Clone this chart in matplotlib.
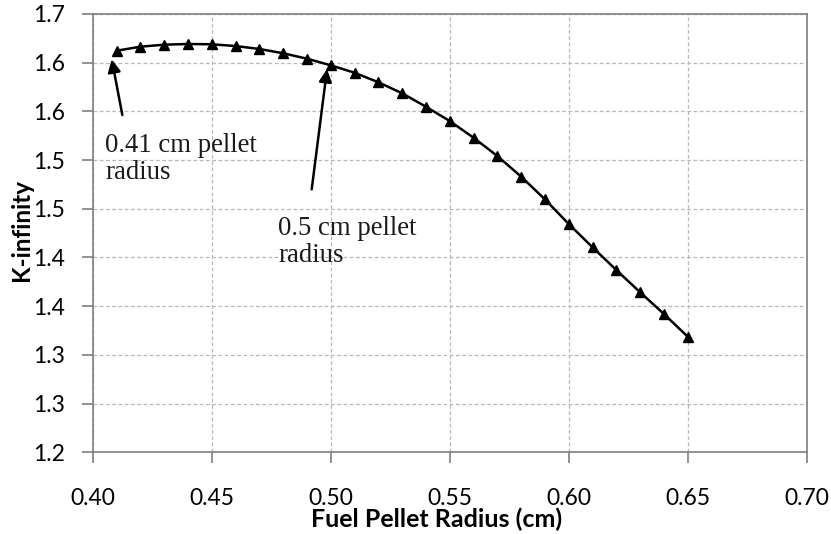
import matplotlib
matplotlib.use("Agg")
import matplotlib.pyplot as plt

# ---- data ----
radius = [0.41, 0.42, 0.43, 0.44, 0.45, 0.46, 0.47, 0.48, 0.49, 0.50,
          0.51, 0.52, 0.53, 0.54, 0.55, 0.56, 0.57, 0.58, 0.59, 0.60,
          0.61, 0.62, 0.63, 0.64, 0.65]
k_inf = [1.6373, 1.6414, 1.6435, 1.6442, 1.6439, 1.6421, 1.6391, 1.6347, 1.6291, 1.6223,
         1.6147, 1.6049, 1.5936, 1.5798, 1.5651, 1.5480, 1.5292, 1.5080, 1.4847, 1.4594,
         1.4355, 1.4121, 1.3893, 1.3670, 1.3437]

x_ticks = [0.40, 0.45, 0.50, 0.55, 0.60, 0.65, 0.70]
x_tick_labels = ["0.40", "0.45", "0.50", "0.55", "0.60", "0.65", "0.70"]
y_ticks = [1.225, 1.275, 1.325, 1.375, 1.425, 1.475, 1.525, 1.575, 1.625, 1.675]
y_tick_labels = ["1.2", "1.3", "1.3", "1.4", "1.4", "1.5", "1.5", "1.6", "1.6", "1.7"]

ann1_text = "0.41 cm pellet\nradius"
ann2_text = "0.5 cm pellet\nradius"

# ---- figure ----
fig = plt.figure(figsize=(8.31, 5.34), dpi=100)
ax = fig.add_axes([0.1116, 0.153, 0.8592, 0.8208])

ax.plot(radius, k_inf, color="black", lw=1.8, marker="^", markersize=7.5,
        markerfacecolor="black", markeredgecolor="black", zorder=3)

ax.set_xlim(0.40, 0.70)
ax.set_ylim(1.225, 1.675)
ax.set_xticks(x_ticks)
ax.set_xticklabels(x_tick_labels)
ax.set_yticks(y_ticks)
ax.set_yticklabels(y_tick_labels)

ax.grid(True, color="#b8b8b8", linestyle=(0, (3, 2)), lw=0.9)
ax.set_axisbelow(True)

for s in ax.spines.values():
    s.set_color("#7f7f7f")
    s.set_linewidth(1.2)

ax.tick_params(axis="both", direction="out", length=8, width=1.2, color="#7f7f7f",
               labelsize=16.5, labelcolor="black")
ax.tick_params(axis="x", pad=17.5)
ax.tick_params(axis="y", pad=12)
for lab in ax.get_xticklabels() + ax.get_yticklabels():
    lab.set_family("Lato")

ax.set_xlabel("Fuel Pellet Radius (cm)", fontsize=18, fontweight="bold", family="Lato")
ax.set_ylabel("K-infinity", fontsize=17.5, fontweight="bold", family="Lato")
ax.xaxis.set_label_coords(0.481, -0.1705)
ax.xaxis.label.set_va("baseline")
ax.yaxis.set_label_coords(-0.0994, 0.507)
ax.yaxis.label.set_va("center")

# annotations
arrow_style = dict(arrowstyle="-|>", color="black", lw=1.8, mutation_scale=19,
                   shrinkA=0, shrinkB=0)
ax.annotate("", xy=(0.40798, 1.6285), xytext=(0.41244, 1.5713), arrowprops=arrow_style)
ax.annotate("", xy=(0.49845, 1.6185), xytext=(0.4920, 1.495), arrowprops=arrow_style)

ax.text(0.40517, 1.5053, ann1_text, family="Liberation Serif", fontsize=19.3,
        ha="left", va="baseline", linespacing=1.1, color="#1a1a1a")
ax.text(0.47786, 1.4207, ann2_text, family="Liberation Serif", fontsize=19.3,
        ha="left", va="baseline", linespacing=1.1, color="#1a1a1a")

fig.savefig("out.png", dpi=100)
